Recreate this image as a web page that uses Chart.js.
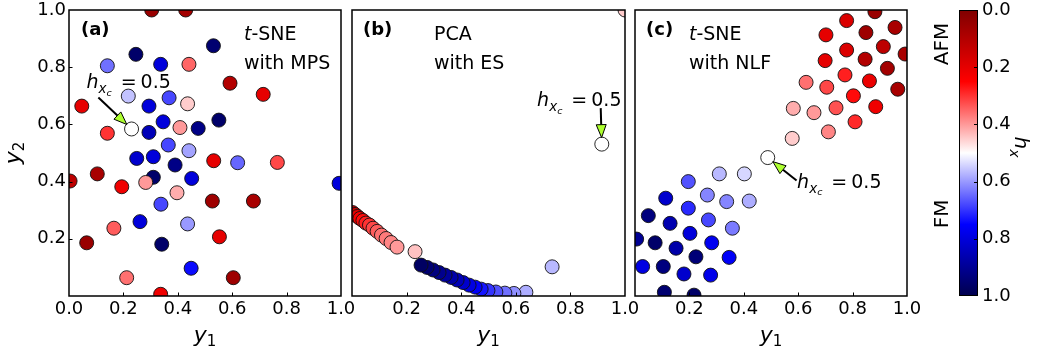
<!DOCTYPE html>
<html>
<head>
<meta charset="utf-8">
<script src="https://cdn.jsdelivr.net/npm/chart.js@4.4.1/dist/chart.umd.min.js"></script>
<style>
  body { margin: 0; background: #fff; }
  #wrap { position: relative; width: 1037px; height: 354px; }
  #wrap canvas { position: absolute; left: 0; top: 0; }
</style>
</head>
<body>
<div id="wrap">
  <canvas id="panelA" width="1037" height="354"></canvas>
  <canvas id="panelB" width="1037" height="354"></canvas>
  <canvas id="panelC" width="1037" height="354"></canvas>
  <canvas id="cbar" width="1037" height="354"></canvas>
</div>
<script>
// (a) t-SNE embedding, MPS features: y1, y2 and field h_x of each sample
const mpsY1 = [0.304, 0.429, 0.531, 0.246, 0.141, 0.337, 0.441, 0.592, 0.714, 0.047,
               0.218, 0.294, 0.368, 0.436, 0.230, 0.141, 0.294, 0.346, 0.408, 0.475,
               0.551, 0.365, 0.441, 0.249, 0.310, 0.390, 0.532, 0.620, 0.766, 0.004,
               0.104, 0.310, 0.194, 0.282, 0.451, 0.397, 0.527, 0.678, 0.338, 0.261,
               0.436, 0.165, 0.553, 0.065, 0.341, 0.449, 0.212, 0.604, 0.337, 0.993];
const mpsY2 = [1.000, 1.000, 0.875, 0.845, 0.805, 0.810, 0.810, 0.744, 0.705, 0.664,
               0.699, 0.664, 0.693, 0.672, 0.584, 0.569, 0.572, 0.609, 0.589, 0.586,
               0.615, 0.528, 0.508, 0.481, 0.487, 0.458, 0.473, 0.466, 0.467, 0.402,
               0.427, 0.415, 0.382, 0.397, 0.411, 0.361, 0.332, 0.332, 0.321, 0.260,
               0.252, 0.237, 0.207, 0.186, 0.181, 0.097, 0.064, 0.064, 0.006, 0.394];
const mpsH  = [0.05, 0.07, 0.95, 0.96, 0.64, 0.80, 0.35, 0.10, 0.20, 0.20,
               0.56, 0.80, 0.68, 0.45, 0.50, 0.30, 0.85, 0.80, 0.40, 0.92,
               0.96, 0.68, 0.59, 0.82, 0.80, 0.92, 0.20, 0.65, 0.32, 0.12,
               0.08, 0.96, 0.22, 0.40, 0.80, 0.42, 0.06, 0.08, 0.68, 0.80,
               0.60, 0.34, 0.20, 0.05, 0.96, 0.74, 0.36, 0.06, 0.22, 0.80];

// (b) PCA embedding, entanglement spectrum (ordered by h_x)
const esY1 = [0.002, 0.011, 0.020, 0.029, 0.040, 0.051, 0.064, 0.077, 0.092, 0.108,
              0.125, 0.143, 0.165, 0.231, 1.000, 0.915, 0.733, 0.637, 0.593, 0.560,
              0.527, 0.498, 0.473, 0.451, 0.429, 0.407, 0.385, 0.363, 0.341, 0.319,
              0.297, 0.275, 0.253];
const esY2 = [0.292, 0.285, 0.278, 0.271, 0.264, 0.255, 0.248, 0.237, 0.226, 0.213,
              0.201, 0.187, 0.171, 0.155, 1.000, 0.531, 0.102, 0.013, 0.009, 0.010,
              0.014, 0.019, 0.024, 0.031, 0.038, 0.047, 0.056, 0.065, 0.073, 0.082,
              0.091, 0.100, 0.108];
const esH  = [0.14, 0.17, 0.20, 0.23, 0.26, 0.28, 0.30, 0.32, 0.34, 0.36,
              0.37, 0.38, 0.40, 0.44, 0.45, 0.50, 0.57, 0.58, 0.61, 0.64,
              0.67, 0.70, 0.73, 0.76, 0.79, 0.82, 0.85, 0.87, 0.89, 0.91,
              0.93, 0.95, 0.97];

// (c) t-SNE embedding, NLF features
const nlfY1 = [0.882, 0.778, 0.956, 0.849, 0.702, 0.993, 0.913, 0.778, 0.846, 0.699,
               0.928, 0.772, 0.862, 0.629, 0.705, 0.966, 0.803, 0.582, 0.658, 0.739,
               0.885, 0.809, 0.711, 0.578, 0.488,
               0.402, 0.310, 0.420, 0.337, 0.266, 0.196, 0.358, 0.270, 0.196, 0.113,
               0.049, 0.129, 0.202, 0.282, 0.346, 0.006, 0.074, 0.151, 0.224, 0.028,
               0.104, 0.180, 0.278, 0.108, 0.217];
const nlfY2 = [0.994, 0.963, 0.939, 0.921, 0.913, 0.846, 0.872, 0.860, 0.828, 0.823,
               0.796, 0.773, 0.752, 0.747, 0.730, 0.723, 0.700, 0.656, 0.641, 0.658,
               0.662, 0.609, 0.574, 0.551, 0.484,
               0.427, 0.427, 0.332, 0.330, 0.353, 0.400, 0.237, 0.266, 0.307, 0.342,
               0.281, 0.254, 0.219, 0.186, 0.135, 0.199, 0.186, 0.167, 0.137, 0.103,
               0.103, 0.077, 0.073, 0.013, 0.003];
const nlfH  = [0.05, 0.18, 0.08, 0.06, 0.20, 0.08, 0.12, 0.18, 0.10, 0.20,
               0.07, 0.28, 0.21, 0.36, 0.32, 0.08, 0.26, 0.42, 0.40, 0.33,
               0.22, 0.29, 0.38, 0.45, 0.50,
               0.54, 0.57, 0.58, 0.62, 0.62, 0.67, 0.63, 0.68, 0.71, 0.82,
               0.93, 0.86, 0.80, 0.77, 0.76, 0.90, 0.96, 0.87, 0.94, 0.79,
               0.93, 0.82, 0.78, 0.95, 0.96];

// tick positions
const ticksFull = [0, 0.2, 0.4, 0.6, 0.8, 1.0];
const ticksNoZero = [0.2, 0.4, 0.6, 0.8, 1.0];
const cbarTicks = [0, 0.2, 0.4, 0.6, 0.8, 1.0];

const W = 1037, H = 354;
const FONT = '"DejaVu Sans"';
Chart.defaults.font.family = FONT;
Chart.defaults.color = '#000';

// matplotlib "seismic", reversed: h = 0 dark red, 0.5 white, 1 navy
const seismicR = [[0, [0.5, 0, 0]], [0.25, [1, 0, 0]], [0.5, [1, 1, 1]], [0.75, [0, 0, 1]], [1, [0, 0, 0.3]]];
function hColor(h) {
  for (let i = 1; i < seismicR.length; i++) {
    const [h1, c1] = seismicR[i];
    if (h <= h1 || i === seismicR.length - 1) {
      const [h0, c0] = seismicR[i - 1];
      const f = Math.min(1, Math.max(0, (h - h0) / (h1 - h0)));
      const rgb = c0.map((c, k) => Math.round(255 * (c + (c1[k] - c) * f)));
      return `rgb(${rgb[0]},${rgb[1]},${rgb[2]})`;
    }
  }
}

function fontOf(r) {
  return `${r.italic ? 'italic ' : ''}${r.bold ? 'bold ' : ''}${r.size}px ${FONT}`;
}

// draw a row of text runs (mixed italic / sub-scripts) starting at x or centred on x
function drawRuns(ctx, runs, x, y, center) {
  ctx.textAlign = 'left';
  ctx.textBaseline = 'alphabetic';
  let total = 0;
  const widths = runs.map(r => {
    ctx.font = fontOf(r);
    const w = ctx.measureText(r.text).width;
    total += (r.gap || 0) + w;
    return w;
  });
  let cx = center ? x - total / 2 : x;
  runs.forEach((r, i) => {
    cx += r.gap || 0;
    ctx.font = fontOf(r);
    ctx.fillText(r.text, cx, y + (r.dy || 0));
    cx += widths[i];
  });
}

const hxcLabel = [
  { text: 'h', size: 19, italic: true },
  { text: 'x', size: 13.5, italic: true, dy: 5 },
  { text: 'c', size: 9.5, italic: true, dy: 7.5 },
  { text: '=', size: 19, gap: 9 },
  { text: '0.5', size: 19, gap: 4 }
];
const y1Title = [{ text: 'y', size: 22, italic: true }, { text: '1', size: 15, dy: 4 }];
const y2Title = [{ text: 'y', size: 22, italic: true }, { text: '2', size: 15, dy: 4 }];

function drawArrow(ctx, x0, y0, x1, y1) {
  const ang = Math.atan2(y1 - y0, x1 - x0);
  const len = 13, half = 5;
  const bx = x1 - len * Math.cos(ang), by = y1 - len * Math.sin(ang);
  ctx.strokeStyle = '#000';
  ctx.lineWidth = 2;
  ctx.beginPath();
  ctx.moveTo(x0, y0);
  ctx.lineTo(bx, by);
  ctx.stroke();
  ctx.beginPath();
  ctx.moveTo(x1, y1);
  ctx.lineTo(bx + half * Math.sin(ang), by - half * Math.cos(ang));
  ctx.lineTo(bx - half * Math.sin(ang), by + half * Math.cos(ang));
  ctx.closePath();
  ctx.fillStyle = '#adff2f';
  ctx.fill();
  ctx.lineWidth = 1;
  ctx.stroke();
}

// pin a scale to a fixed thickness so every panel gets the same plot box
function fixSize(size) {
  return scale => {
    if (scale.isHorizontal()) scale.height = size; else scale.width = size;
    scale.paddingLeft = scale.paddingRight = scale.paddingTop = scale.paddingBottom = 0;
  };
}

function useTicks(values) {
  return scale => { scale.ticks = values.map(value => ({ value })); };
}

function makeDecor(cfg, y1, y2, h) {
  return {
    id: 'panelDecor',
    afterDatasetsDraw(chart) {
      const { ctx, chartArea: a, scales: { x, y } } = chart;
      ctx.save();
      ctx.strokeStyle = '#000';
      ctx.lineWidth = 1.5;
      ctx.strokeRect(a.left, a.top, a.right - a.left, a.bottom - a.top);

      // inward tick marks
      ctx.lineWidth = 1;
      ctx.beginPath();
      x.ticks.forEach(t => {
        if (t.value <= 0 || t.value >= 1) return;
        const px = Math.round(x.getPixelForValue(t.value)) + 0.5;
        ctx.moveTo(px, a.bottom);
        ctx.lineTo(px, a.bottom - 3.5);
      });
      if (cfg.yTicks) {
        y.ticks.forEach(t => {
          if (t.value <= 0 || t.value >= 1) return;
          const py = Math.round(y.getPixelForValue(t.value)) + 0.5;
          ctx.moveTo(a.left, py);
          ctx.lineTo(a.left + 3.5, py);
        });
      }
      ctx.stroke();

      ctx.fillStyle = '#000';
      drawRuns(ctx, [{ text: cfg.tag, size: 18, bold: true }], a.left + cfg.tagDx, a.top + 24.5);
      cfg.lines.forEach((runs, i) => drawRuns(ctx, runs, a.left + cfg.textDx, a.top + 30 + 28.5 * i));

      // annotation pointing at the h = 0.5 sample
      const k = h.indexOf(0.5);
      const cx = x.getPixelForValue(y1[k]), cy = y.getPixelForValue(y2[k]);
      const tx = x.getPixelForValue(cfg.note.tail[0]), ty = y.getPixelForValue(cfg.note.tail[1]);
      const d = Math.hypot(tx - cx, ty - cy);
      drawArrow(ctx, tx, ty, cx + (tx - cx) / d * 6.5, cy + (ty - cy) / d * 6.5);
      ctx.fillStyle = '#000';
      drawRuns(ctx, hxcLabel, x.getPixelForValue(cfg.note.text[0]), y.getPixelForValue(cfg.note.text[1]));

      // axis titles
      drawRuns(ctx, y1Title, (a.left + a.right) / 2, 341.5, true);
      if (cfg.yTicks) {
        ctx.translate(20, (a.top + a.bottom) / 2);
        ctx.rotate(-Math.PI / 2);
        drawRuns(ctx, y2Title, 0, 0, true);
      }
      ctx.restore();
    }
  };
}

function scatterPanel(id, y1, y2, h, cfg) {
  const yWidth = cfg.yTicks ? 40 : 0;
  return new Chart(document.getElementById(id), {
    type: 'scatter',
    data: {
      datasets: [{
        data: y1.map((v, i) => ({ x: v, y: y2[i] })),
        pointRadius: 7,
        pointHoverRadius: 7,
        pointBorderWidth: 0.9,
        pointBorderColor: '#111',
        pointBackgroundColor: h.map(hColor),
        clip: 0
      }]
    },
    options: {
      responsive: false,
      animation: false,
      events: [],
      layout: { autoPadding: false, padding: { left: cfg.left - yWidth, right: W - cfg.right, top: 10, bottom: 0 } },
      scales: {
        x: {
          type: 'linear', min: 0, max: 1,
          grid: { display: false, drawTicks: false },
          border: { display: false },
          afterBuildTicks: useTicks(cfg.xTicks),
          afterFit: fixSize(H - 296),
          ticks: { padding: 3, autoSkip: false, maxRotation: 0, font: { size: 18 }, callback: v => v.toFixed(1) }
        },
        y: {
          type: 'linear', min: 0, max: 1,
          display: !!cfg.yTicks,
          grid: { display: false, drawTicks: false },
          border: { display: false },
          afterBuildTicks: useTicks(cfg.yTicks || ticksNoZero),
          afterFit: fixSize(yWidth),
          ticks: { padding: 3, autoSkip: false, font: { size: 18 }, callback: v => v.toFixed(1) }
        }
      },
      plugins: { legend: { display: false }, tooltip: { enabled: false } }
    },
    plugins: [makeDecor(cfg, y1, y2, h)]
  });
}

scatterPanel('panelA', mpsY1, mpsY2, mpsH, {
  left: 69, right: 341, xTicks: ticksFull, yTicks: ticksNoZero,
  tag: '(a)', tagDx: 12, textDx: 175,
  lines: [[{ text: 't', size: 19, italic: true }, { text: '-SNE', size: 19 }], [{ text: 'with MPS', size: 19 }]],
  note: { text: [0.064, 0.727], tail: [0.108, 0.694] }
});

scatterPanel('panelB', esY1, esY2, esH, {
  left: 352, right: 625, xTicks: ticksNoZero,
  tag: '(b)', tagDx: 11, textDx: 82,
  lines: [[{ text: 'PCA', size: 19 }], [{ text: 'with ES', size: 19 }]],
  note: { text: [0.678, 0.664], tail: [0.911, 0.657] }
});

scatterPanel('panelC', nlfY1, nlfY2, nlfH, {
  left: 635, right: 907, xTicks: ticksNoZero,
  tag: '(c)', tagDx: 11, textDx: 54,
  lines: [[{ text: 't', size: 19, italic: true }, { text: '-SNE', size: 19 }], [{ text: 'with NLF', size: 19 }]],
  note: { text: [0.596, 0.378], tail: [0.594, 0.404] }
});

// colour bar for h_x
const cbarDecor = {
  id: 'cbarDecor',
  afterDatasetsDraw(chart) {
    const { ctx, chartArea: a, scales: { y } } = chart;
    ctx.save();
    ctx.strokeStyle = '#000';
    ctx.lineWidth = 1;
    ctx.strokeRect(a.left + 0.5, a.top + 0.5, a.right - a.left - 1, a.bottom - a.top - 1);
    ctx.beginPath();
    y.ticks.forEach(t => {
      if (t.value <= 0 || t.value >= 1) return;
      const py = Math.round(y.getPixelForValue(t.value)) + 0.5;
      ctx.moveTo(a.right, py);
      ctx.lineTo(a.right - 4, py);
    });
    ctx.stroke();

    ctx.fillStyle = '#000';
    ctx.font = `20px ${FONT}`;
    ctx.textAlign = 'center';
    ctx.textBaseline = 'alphabetic';
    [['AFM', 0.119], ['FM', 0.713]].forEach(([txt, v]) => {
      ctx.save();
      ctx.translate(948, y.getPixelForValue(v));
      ctx.rotate(-Math.PI / 2);
      ctx.fillText(txt, 0, 0);
      ctx.restore();
    });

    ctx.translate(1015, (a.top + a.bottom) / 2 - 6);
    ctx.rotate(Math.PI / 2);
    drawRuns(ctx, [{ text: 'h', size: 20, italic: true }, { text: 'x', size: 14, italic: true, dy: 5 }], 0, 0, true);
    ctx.restore();
  }
};

new Chart(document.getElementById('cbar'), {
  type: 'bar',
  data: {
    labels: [''],
    datasets: [{
      data: [[0, 1]],
      borderWidth: 0,
      barPercentage: 1,
      categoryPercentage: 1,
      backgroundColor: c => {
        const y = c.chart.scales.y;
        if (!c.chart.chartArea || !y) return '#fff';
        const g = c.chart.ctx.createLinearGradient(0, y.getPixelForValue(0), 0, y.getPixelForValue(1));
        seismicR.forEach(([h]) => g.addColorStop(h, hColor(h)));
        return g;
      }
    }]
  },
  options: {
    responsive: false,
    animation: false,
    events: [],
    layout: { autoPadding: false, padding: { left: 959, right: W - 978 - 45, top: 10, bottom: H - 296 } },
    scales: {
      x: { display: false },
      y: {
        position: 'right', reverse: true, min: 0, max: 1,
        grid: { display: false, drawTicks: false },
        border: { display: false },
        afterBuildTicks: useTicks(cbarTicks),
        afterFit: fixSize(45),
        ticks: { padding: 4, autoSkip: false, font: { size: 18 }, callback: v => v.toFixed(1) }
      }
    },
    plugins: { legend: { display: false }, tooltip: { enabled: false } }
  },
  plugins: [cbarDecor]
});
</script>
</body>
</html>
